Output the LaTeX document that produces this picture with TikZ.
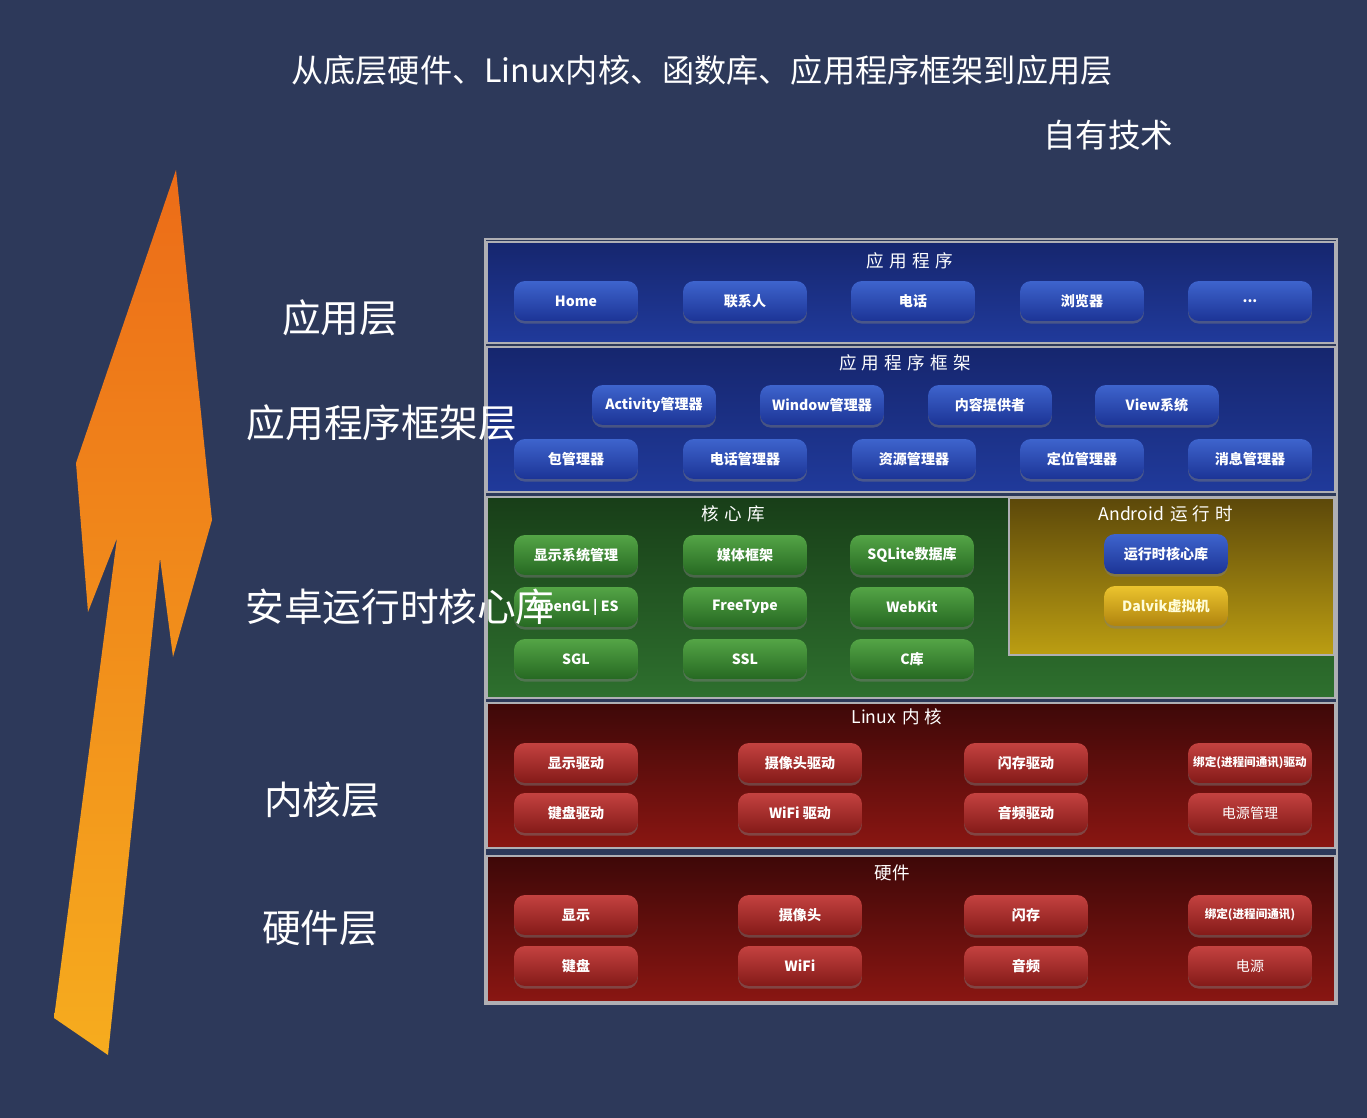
\documentclass[tikz,border=0pt]{standalone}
\usepackage{fontspec}
\setmainfont{Noto Sans CJK SC}
\newfontfamily\widefont{Noto Sans CJK SC}[LetterSpace=30]
\usetikzlibrary{shadows}

\definecolor{bgnavy}{RGB}{45,57,90}
\definecolor{arrowtop}{RGB}{236,108,24}
\definecolor{arrowbot}{RGB}{246,172,30}
\definecolor{framegray}{RGB}{175,175,180}
\definecolor{bluetop}{RGB}{22,38,110}
\definecolor{bluebot}{RGB}{32,58,155}
\definecolor{greentop}{RGB}{24,62,24}
\definecolor{greenbot}{RGB}{46,112,46}
\definecolor{yellowtop}{RGB}{92,72,10}
\definecolor{yellowbot}{RGB}{188,158,18}
\definecolor{redtop}{RGB}{62,8,8}
\definecolor{redbot}{RGB}{138,22,18}
\definecolor{bbtntop}{RGB}{62,100,205}
\definecolor{bbtnbot}{RGB}{28,52,150}
\definecolor{gbtntop}{RGB}{84,165,70}
\definecolor{gbtnbot}{RGB}{38,105,34}
\definecolor{ybtntop}{RGB}{236,196,46}
\definecolor{ybtnbot}{RGB}{176,132,14}
\definecolor{rbtntop}{RGB}{196,66,64}
\definecolor{rbtnbot}{RGB}{132,26,24}

\tikzset{
  btn/.style={rectangle, rounded corners=0.22cm, minimum width=2.48cm,
    minimum height=0.8cm, inner sep=0pt, text=white,
    font=\bfseries\fontsize{8}{9}\selectfont,
    drop shadow={opacity=0.45, shadow xshift=0pt, shadow yshift=-1.5pt}},
  bluebtn/.style={btn, top color=bbtntop, bottom color=bbtnbot},
  greenbtn/.style={btn, top color=gbtntop, bottom color=gbtnbot},
  yellowbtn/.style={btn, top color=ybtntop, bottom color=ybtnbot, text=yellow!15},
  redbtn/.style={btn, top color=rbtntop, bottom color=rbtnbot},
  smalltext/.style={font=\bfseries\fontsize{6.6}{8}\selectfont},
  layertitle/.style={text=white, font=\widefont\fontsize{10}{12}\selectfont},
  panel/.style={draw=framegray, line width=0.8pt},
  sidelabel/.style={text=white, font=\fontsize{22}{26}\selectfont},
}

\begin{document}
\begin{tikzpicture}[x=0.02cm, y=-0.02cm]

  \fill[bgnavy] (0,0) rectangle (1367,1118);
  \useasboundingbox (0,0) rectangle (1367,1118);

  \shade[top color=arrowtop, bottom color=arrowbot]
    (176,170) -- (212,520) -- (173,657) -- (160,558) -- (108,1055)
    -- (54,1018) -- (117,538) -- (88,612) -- (76,463) -- cycle;

  \draw[framegray, line width=0.8pt] (485,239) rectangle (1337,1004);
  \shade[panel, top color=bluetop, bottom color=bluebot] (487,242) rectangle (1335,343);
  \shade[panel, top color=bluetop, bottom color=bluebot] (487,347) rectangle (1335,492);
  \shade[panel, top color=greentop, bottom color=greenbot] (487,497) rectangle (1335,698);
  \shade[panel, top color=yellowtop, bottom color=yellowbot] (1009,498) rectangle (1334,655);
  \shade[panel, top color=redtop, bottom color=redbot] (487,703) rectangle (1335,848);
  \shade[panel, top color=redtop, bottom color=redbot] (487,856) rectangle (1335,1002);

  \node[layertitle] (apptitle) at (910,261) {应用程序};
  \node[layertitle] (fwtitle)  at (905,363) {应用程序框架};
  \node[layertitle] (libtitle) at (733,514) {核心库};
  \node[text=white, font=\fontsize{10}{12}\selectfont] (rttitle) at (1166,514)
    {Android\hspace{0.35em}{\widefont 运行时}};
  \node[text=white, font=\fontsize{10}{12}\selectfont] (kertitle) at (897,717)
    {Linux\hspace{0.35em}{\widefont 内核}};
  \node[text=white, font=\fontsize{10}{12}\selectfont] (hwtitle) at (892,873) {硬件};

  \begin{scope}[every node/.style={bluebtn}]
    \node (home)     at (576,301)  {Home};
    \node (contacts) at (745,301)  {联系人};
    \node (phone)    at (913,301)  {电话};
    \node (browser)  at (1082,301) {浏览器};
    \node (more)     at (1250,301) {...};

    \node (activity) at (654,405)  {Activity管理器};
    \node (window)   at (822,405)  {Window管理器};
    \node (content)  at (990,405)  {内容提供者};
    \node (view)     at (1157,405) {View系统};
    \node (package)  at (576,459)  {包管理器};
    \node (tele)     at (745,459)  {电话管理器};
    \node (resource) at (914,459)  {资源管理器};
    \node (location) at (1082,459) {定位管理器};
    \node (notify)   at (1250,459) {消息管理器};

    \node (corelib)  at (1166,554) {运行时核心库};
  \end{scope}

  \node[yellowbtn] (dalvik) at (1166,606) {Dalvik虚拟机};

  \begin{scope}[every node/.style={greenbtn}]
    \node (surface)  at (576,555) {显示系统管理};
    \node (media)    at (745,555) {媒体框架};
    \node (sqlite)   at (912,555) {SQLite数据库};
    \node (opengl)   at (576,607) {OpenGL | ES};
    \node (freetype) at (745,607) {FreeType};
    \node (webkit)   at (912,607) {WebKit};
    \node (sgl)      at (576,659) {SGL};
    \node (ssl)      at (745,659) {SSL};
    \node (libc)     at (912,659) {C库};
  \end{scope}

  \begin{scope}[every node/.style={redbtn}]
    \node (drvdisp)  at (576,763)  {显示驱动};
    \node (drvcam)   at (800,763)  {摄像头驱动};
    \node (drvflash) at (1026,763) {闪存驱动};
    \node[smalltext] (drvbind) at (1250,763) {绑定(进程间通讯)驱动};
    \node (drvkey)   at (576,813)  {键盘驱动};
    \node (drvwifi)  at (800,813)  {WiFi 驱动};
    \node (drvaudio) at (1026,813) {音频驱动};
    \node[font=\fontsize{8}{9}\selectfont] (drvpower) at (1250,813) {电源管理};

    \node (hwdisp)   at (576,915)  {显示};
    \node (hwcam)    at (800,915)  {摄像头};
    \node (hwflash)  at (1026,915) {闪存};
    \node[smalltext] (hwbind) at (1250,915) {绑定(进程间通讯)};
    \node (hwkey)    at (576,966)  {键盘};
    \node (hwwifi)   at (800,966)  {WiFi};
    \node (hwaudio)  at (1026,966) {音频};
    \node[font=\fontsize{8}{9}\selectfont] (hwpower) at (1250,966) {电源};
  \end{scope}

  \begin{scope}[every node/.style={sidelabel}]
    \node (lblapp)  at (340,318) {应用层};
    \node (lblfw)   at (382,423) {应用程序框架层};
    \node (lblrt)   at (400,607) {安卓运行时核心库};
    \node (lblkern) at (322,800) {内核层};
    \node (lblhw)   at (320,928) {硬件层};
  \end{scope}

  \node[text=white, font=\fontsize{18.3}{22}\selectfont] (headline) at (702,70)
    {从底层硬件、Linux内核、函数库、应用程序框架到应用层};
  \node[text=white, font=\fontsize{18.5}{22}\selectfont] (owntech) at (1108,135) {自有技术};

\end{tikzpicture}
\end{document}
